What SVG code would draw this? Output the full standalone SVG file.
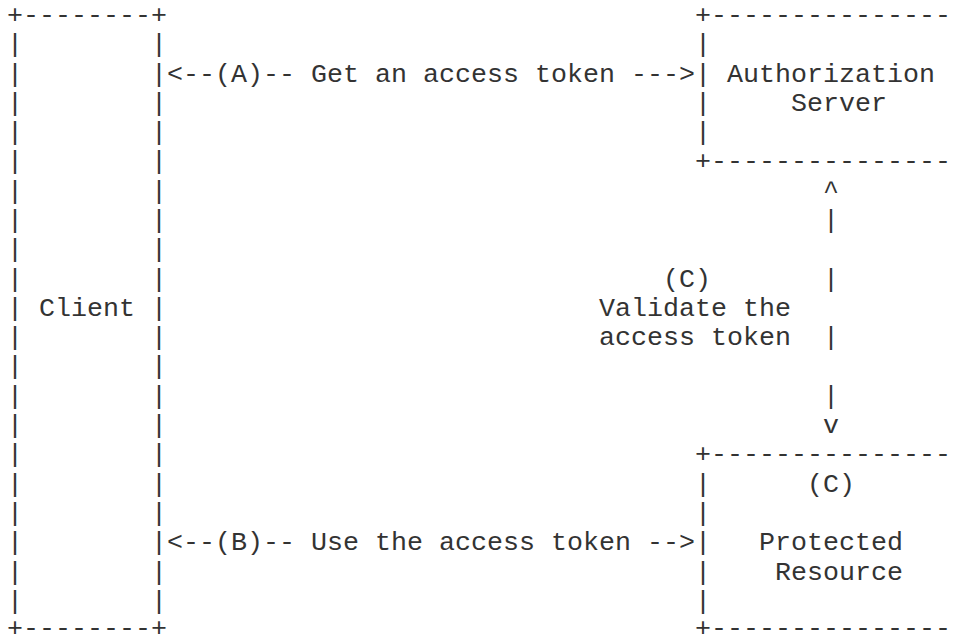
<svg xmlns="http://www.w3.org/2000/svg" width="959" height="637" viewBox="0 0 959 637">
  <style>
    text { font-family: "Liberation Mono", "Courier New", monospace; font-size: 26.667px; fill: #333333; }
  </style>
  <rect x="0" y="0" width="959" height="637" fill="#ffffff"/>

  <!-- Character grid: column c starts at x = 7 + 16c, row r baseline at y = 23 + 29.29r -->

  <g id="client">
    <text x="7" y="23">+--------+</text>
    <text>
      <tspan x="7" y="52.29">|</tspan><tspan x="7" y="81.58">|</tspan><tspan x="7" y="110.87">|</tspan><tspan x="7" y="140.16">|</tspan><tspan x="7" y="169.45">|</tspan><tspan x="7" y="198.74">|</tspan><tspan x="7" y="228.03">|</tspan><tspan x="7" y="257.32">|</tspan><tspan x="7" y="286.61">|</tspan><tspan x="7" y="315.9">|</tspan><tspan x="7" y="345.19">|</tspan><tspan x="7" y="374.48">|</tspan><tspan x="7" y="403.77">|</tspan><tspan x="7" y="433.06">|</tspan><tspan x="7" y="462.35">|</tspan><tspan x="7" y="491.64">|</tspan><tspan x="7" y="520.93">|</tspan><tspan x="7" y="550.22">|</tspan><tspan x="7" y="579.51">|</tspan><tspan x="7" y="608.8">|</tspan>
    </text>
    <text>
      <tspan x="151" y="52.29">|</tspan><tspan x="151" y="81.58">|</tspan><tspan x="151" y="110.87">|</tspan><tspan x="151" y="140.16">|</tspan><tspan x="151" y="169.45">|</tspan><tspan x="151" y="198.74">|</tspan><tspan x="151" y="228.03">|</tspan><tspan x="151" y="257.32">|</tspan><tspan x="151" y="286.61">|</tspan><tspan x="151" y="315.9">|</tspan><tspan x="151" y="345.19">|</tspan><tspan x="151" y="374.48">|</tspan><tspan x="151" y="403.77">|</tspan><tspan x="151" y="433.06">|</tspan><tspan x="151" y="462.35">|</tspan><tspan x="151" y="491.64">|</tspan><tspan x="151" y="520.93">|</tspan><tspan x="151" y="550.22">|</tspan><tspan x="151" y="579.51">|</tspan><tspan x="151" y="608.8">|</tspan>
    </text>
    <text x="39" y="315.9">Client</text>
    <text x="7" y="636">+--------+</text>
  </g>

  <!-- right-hand boxes run to the right edge of the canvas -->
  <g id="authorization-server">
    <text x="695" y="23">+---------------</text>
    <text>
      <tspan x="695" y="52.29">|</tspan><tspan x="695" y="81.58">|</tspan><tspan x="695" y="110.87">|</tspan><tspan x="695" y="140.16">|</tspan>
    </text>
    <text x="727" y="81.58">Authorization</text>
    <text x="791" y="110.87">Server</text>
    <text x="695" y="169.45">+---------------</text>
  </g>

  <g id="protected-resource">
    <text x="695" y="462.35">+---------------</text>
    <text>
      <tspan x="695" y="491.64">|</tspan><tspan x="695" y="520.93">|</tspan><tspan x="695" y="550.22">|</tspan><tspan x="695" y="579.51">|</tspan><tspan x="695" y="608.8">|</tspan>
    </text>
    <text x="807" y="491.64">(C)</text>
    <text x="759" y="550.22">Protected</text>
    <text x="775" y="579.51">Resource</text>
    <text x="695" y="636">+---------------</text>
  </g>

  <g id="connectors">
    <!-- (A) client <-> authorization server -->
    <text x="167" y="81.58">&lt;--(A)-- Get an access token ---&gt;</text>
    <!-- (B) client <-> protected resource -->
    <text x="167" y="550.22">&lt;--(B)-- Use the access token --&gt;</text>
    <!-- (C) token validation between the two servers -->
    <text>
      <tspan x="823" y="198.74">^</tspan><tspan x="823" y="228.03">|</tspan><tspan x="823" y="286.61">|</tspan><tspan x="823" y="345.19">|</tspan><tspan x="823" y="403.77">|</tspan><tspan x="823" y="433.06">v</tspan>
    </text>
    <text x="663" y="286.61">(C)</text>
    <text x="599" y="315.9">Validate the</text>
    <text x="599" y="345.19">access token</text>
  </g>
</svg>
